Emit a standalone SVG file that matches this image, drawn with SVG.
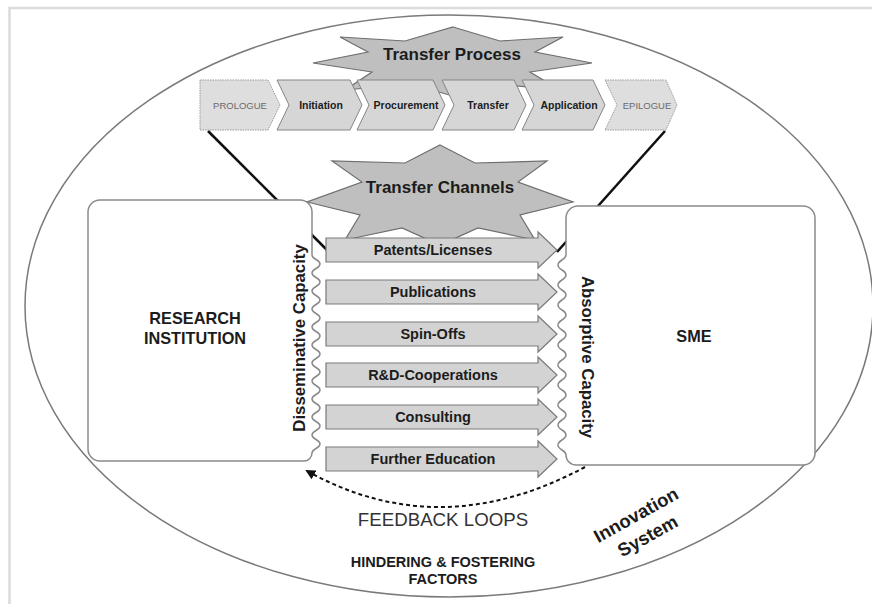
<svg xmlns="http://www.w3.org/2000/svg" width="872" height="604" viewBox="0 0 872 604">
<style>
text{font-family:"Liberation Sans",Arial,sans-serif;fill:#1c1c1c}
.b{font-weight:bold}
.star{fill:#bfbfbf;stroke:#6e6e6e;stroke-width:1.2}
.chev{fill:#d6d6d6;stroke:#858585;stroke-width:1}
.chevd{fill:#dedede;stroke:#9a9a9a;stroke-width:1;stroke-dasharray:1.5 1}
.box{fill:#fff;stroke:#8a8a8a;stroke-width:1.5}
.arr{fill:#d3d3d3;stroke:#7a7a7a;stroke-width:1.2}
.ct{font-size:14.5px;font-weight:bold;text-anchor:middle}
.pt{font-size:10.5px;font-weight:bold;text-anchor:middle}
.pe{font-size:9.5px;text-anchor:middle;fill:#6a6a6a}
.blk{stroke:#111;stroke-width:2.6;fill:none}
</style>
<defs>
<path id="chanArrow" d="M326,-12 H538 V-18 L557,0 L538,18 V12 H326 Z"/>
<marker id="fbHead" viewBox="0 0 10 10" refX="8" refY="5" markerWidth="5" markerHeight="5" orient="auto">
<path d="M0,0 L10,5 L0,10 Z" fill="#111"/>
</marker>
</defs>
<rect width="872" height="604" fill="#fff"/>
<path d="M9.5,604 V8 H872" stroke="#dcdcdc" stroke-width="2.6" fill="none"/>
<g id="innovation-system">
<ellipse cx="449" cy="306" rx="424" ry="291" fill="none" stroke="#7a7a7a" stroke-width="1.5"/>
</g>
<g id="connectors">
<line class="blk" x1="208" y1="131" x2="327" y2="250"/>
<line class="blk" x1="665" y1="131" x2="557" y2="252"/>
<path d="M585,467 Q440,545 307,471" fill="none" stroke="#111" stroke-width="2" stroke-dasharray="4 3" marker-end="url(#fbHead)"/>
</g>
<g id="transfer-process">
<polygon class="star" points="453,27 500,41 563,37 535,52 592,63 530,72 560,90 495,84 453,96 410,84 345,90 372,72 313,63 368,52 340,37 405,41"/>
<text class="b" x="452" y="60" font-size="17" text-anchor="middle">Transfer Process</text>
</g>
<g id="phase-prologue">
<path class="chevd" d="M200,80 H268 L280,105 L268,130 H200 Z"/>
<text class="pe" x="240" y="109">PROLOGUE</text>
</g>
<g id="phase-initiation">
<path class="chev" d="M277,80 H350 L362,105 L350,130 H277 L289,105 Z"/>
<text class="pt" x="321" y="109">Initiation</text>
</g>
<g id="phase-procurement">
<path class="chev" d="M357,80 H433 L445,105 L433,130 H357 L369,105 Z"/>
<text class="pt" x="406" y="109">Procurement</text>
</g>
<g id="phase-transfer">
<path class="chev" d="M442,80 H514 L526,105 L514,130 H442 L454,105 Z"/>
<text class="pt" x="488" y="109">Transfer</text>
</g>
<g id="phase-application">
<path class="chev" d="M522,80 H593 L605,105 L593,130 H522 L534,105 Z"/>
<text class="pt" x="569" y="109">Application</text>
</g>
<g id="phase-epilogue">
<path class="chevd" d="M605,80 H666 L677,105 L666,130 H605 L617,105 Z"/>
<text class="pe" x="647" y="109">EPILOGUE</text>
</g>
<g id="transfer-channels">
<polygon class="star" points="440,145 475,163 547,161 518,182 573,202 520,215 535,240 478,228 440,245 402,228 345,240 360,215 307,202 362,182 332,161 405,163"/>
<text class="b" x="440" y="193" font-size="17" text-anchor="middle">Transfer Channels</text>
</g>
<g id="research-institution">
<path class="box" d="M100,200 H300 A12,12 0 0 1 312,212 V255 c0,4.5 8,4.5 8,9 s-8,4.5 -8,9 s8,4.5 8,9 s-8,4.5 -8,9 s8,4.5 8,9 s-8,4.5 -8,9 s8,4.5 8,9 s-8,4.5 -8,9 s8,4.5 8,9 s-8,4.5 -8,9 s8,4.5 8,9 s-8,4.5 -8,9 s8,4.5 8,9 s-8,4.5 -8,9 s8,4.5 8,9 s-8,4.5 -8,9 s8,4.5 8,9 s-8,4.5 -8,9 s8,4.5 8,9 s-8,4.5 -8,9 s8,4.5 8,9 s-8,4.5 -8,9 A8,8 0 0 1 304,461 H100 A12,12 0 0 1 88,449 V212 A12,12 0 0 1 100,200 Z"/>
<text class="b" x="195" y="324" font-size="16.3" text-anchor="middle">RESEARCH</text>
<text class="b" x="195" y="344" font-size="16.3" text-anchor="middle">INSTITUTION</text>
<text class="b" font-size="16.8" text-anchor="middle" transform="translate(305,338) rotate(-90)">Disseminative Capacity</text>
</g>
<g id="sme">
<path class="box" d="M578,206 H803 A12,12 0 0 1 815,218 V453 A12,12 0 0 1 803,465 H576 A10,10 0 0 1 566,455 c0,-5 -8,-5 -8,-10 s8,-5 8,-10 s-8,-5 -8,-10 s8,-5 8,-10 s-8,-5 -8,-10 s8,-5 8,-10 s-8,-5 -8,-10 s8,-5 8,-10 s-8,-5 -8,-10 s8,-5 8,-10 s-8,-5 -8,-10 s8,-5 8,-10 s-8,-5 -8,-10 s8,-5 8,-10 s-8,-5 -8,-10 s8,-5 8,-10 s-8,-5 -8,-10 s8,-5 8,-10 s-8,-5 -8,-10 s8,-5 8,-10 V218 A12,12 0 0 1 578,206 Z"/>
<text class="b" x="694" y="342" font-size="16.3" text-anchor="middle">SME</text>
<text class="b" font-size="16.8" text-anchor="middle" transform="translate(582,357) rotate(90)">Absorptive Capacity</text>
</g>
<g id="channel-patents">
<use href="#chanArrow" class="arr" y="250"/>
<text class="ct" x="433" y="255">Patents/Licenses</text>
</g>
<g id="channel-publications">
<use href="#chanArrow" class="arr" y="292"/>
<text class="ct" x="433" y="297">Publications</text>
</g>
<g id="channel-spinoffs">
<use href="#chanArrow" class="arr" y="334"/>
<text class="ct" x="433" y="339">Spin-Offs</text>
</g>
<g id="channel-rd">
<use href="#chanArrow" class="arr" y="375"/>
<text class="ct" x="433" y="380">R&amp;D-Cooperations</text>
</g>
<g id="channel-consulting">
<use href="#chanArrow" class="arr" y="417"/>
<text class="ct" x="433" y="422">Consulting</text>
</g>
<g id="channel-education">
<use href="#chanArrow" class="arr" y="459"/>
<text class="ct" x="433" y="464">Further Education</text>
</g>
<g id="labels">
<text x="443" y="526" font-size="18.7" text-anchor="middle" style="fill:#333">FEEDBACK LOOPS</text>
<text class="b" x="443" y="567" font-size="14.5" text-anchor="middle">HINDERING &amp; FOSTERING</text>
<text class="b" x="443" y="584" font-size="14.5" text-anchor="middle">FACTORS</text>
<g transform="translate(641,524) rotate(-29)">
<text class="b" x="0" y="-4" font-size="18.5" text-anchor="middle">Innovation</text>
<text class="b" x="0" y="20" font-size="18.5" text-anchor="middle">System</text>
</g>
</g>
</svg>
